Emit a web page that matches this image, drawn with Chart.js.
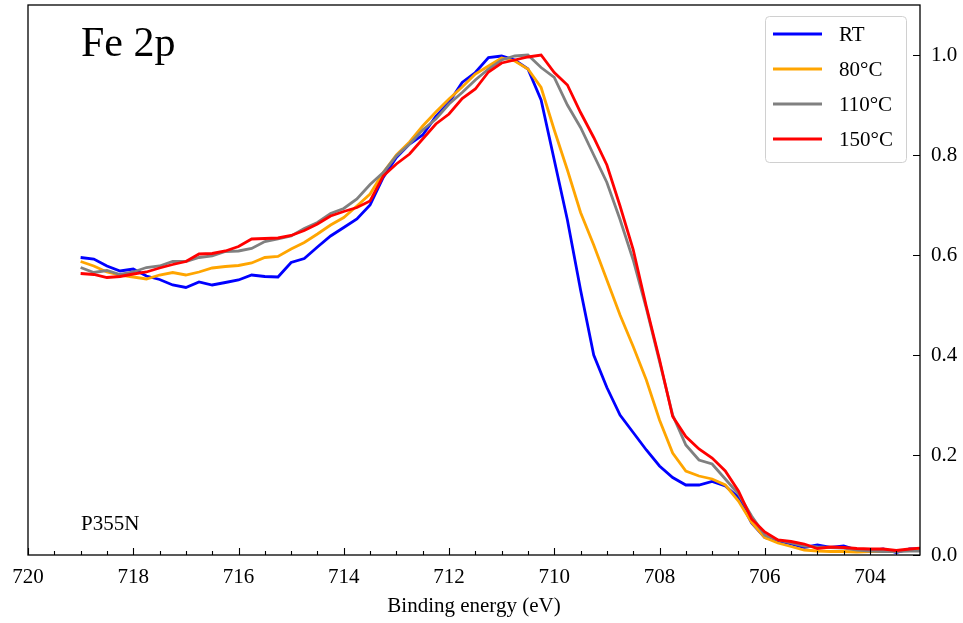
<!DOCTYPE html>
<html>
<head>
<meta charset="utf-8">
<title>Fe 2p</title>
<script src="https://cdn.jsdelivr.net/npm/chart.js@4.4.1/dist/chart.umd.min.js"></script>
<style>
    html, body { margin: 0; padding: 0; background: #fff; }
    #wrap { width: 963px; height: 623px; position: relative; }
</style>
</head>
<body>
<div id="wrap"><canvas id="xpsChart"></canvas></div>
<script>
// Fe 2p spectra - binding energy (eV), normalised intensity

const energy = [719, 718.75, 718.5, 718.25, 718, 717.75, 717.5, 717.25, 717, 716.75, 716.5, 716.25, 716, 715.75, 715.5, 715.25,
    715, 714.75, 714.5, 714.25, 714, 713.75, 713.5, 713.25, 713, 712.75, 712.5, 712.25, 712, 711.75, 711.5, 711.25,
    711, 710.75, 710.5, 710.25, 710, 709.75, 709.5, 709.25, 709, 708.75, 708.5, 708.25, 708, 707.75, 707.5, 707.25,
    707, 706.75, 706.5, 706.25, 706, 705.75, 705.5, 705.25, 705, 704.75, 704.5, 704.25, 704, 703.75, 703.5, 703.25, 703];

const rtValues = [0.595, 0.592, 0.578, 0.568, 0.572, 0.558, 0.551, 0.540, 0.535, 0.546, 0.540, 0.545, 0.550, 0.560, 0.557, 0.556,
    0.585, 0.593, 0.616, 0.638, 0.655, 0.672, 0.700, 0.755, 0.795, 0.822, 0.840, 0.877, 0.905, 0.945, 0.965, 0.995,
    0.998, 0.990, 0.972, 0.910, 0.790, 0.670, 0.530, 0.400, 0.335, 0.280, 0.245, 0.210, 0.178, 0.155, 0.140, 0.140,
    0.147, 0.138, 0.115, 0.064, 0.035, 0.028, 0.022, 0.015, 0.020, 0.015, 0.018, 0.010, 0.008, 0.012, 0.005, 0.012, 0.012];

const t80Values = [0.587, 0.578, 0.566, 0.560, 0.556, 0.552, 0.560, 0.565, 0.560, 0.566, 0.574, 0.577, 0.579, 0.584, 0.595, 0.597,
    0.612, 0.625, 0.642, 0.660, 0.675, 0.698, 0.722, 0.765, 0.800, 0.826, 0.858, 0.886, 0.912, 0.936, 0.962, 0.978,
    0.994, 0.988, 0.972, 0.935, 0.850, 0.770, 0.685, 0.620, 0.550, 0.480, 0.417, 0.350, 0.270, 0.204, 0.168, 0.158,
    0.152, 0.140, 0.108, 0.065, 0.035, 0.024, 0.017, 0.010, 0.008, 0.007, 0.007, 0.006, 0.007, 0.007, 0.008, 0.010, 0.010];

const t110Values = [0.575, 0.565, 0.569, 0.561, 0.566, 0.575, 0.578, 0.587, 0.587, 0.595, 0.598, 0.607, 0.608, 0.613, 0.627, 0.632,
    0.638, 0.653, 0.665, 0.683, 0.693, 0.712, 0.741, 0.765, 0.798, 0.822, 0.850, 0.872, 0.902, 0.925, 0.950, 0.972,
    0.990, 0.998, 1.000, 0.975, 0.955, 0.900, 0.855, 0.800, 0.745, 0.671, 0.590, 0.493, 0.387, 0.280, 0.220, 0.190,
    0.182, 0.152, 0.122, 0.078, 0.040, 0.030, 0.024, 0.018, 0.016, 0.015, 0.014, 0.010, 0.008, 0.007, 0.007, 0.008, 0.008];

const t150Values = [0.563, 0.561, 0.555, 0.557, 0.562, 0.566, 0.574, 0.581, 0.587, 0.602, 0.603, 0.608, 0.617, 0.632, 0.633, 0.634,
    0.639, 0.649, 0.662, 0.678, 0.687, 0.695, 0.708, 0.758, 0.782, 0.802, 0.832, 0.862, 0.882, 0.913, 0.932, 0.966,
    0.984, 0.990, 0.996, 1.000, 0.965, 0.940, 0.885, 0.835, 0.780, 0.698, 0.611, 0.497, 0.391, 0.277, 0.237, 0.212,
    0.194, 0.168, 0.128, 0.072, 0.046, 0.030, 0.027, 0.022, 0.013, 0.016, 0.015, 0.013, 0.012, 0.012, 0.009, 0.012, 0.014];

const seriesLabels = ['RT', '80°C', '110°C', '150°C'];
const seriesColors = ['#0000ff', '#ffa500', '#808080', '#ff0000'];
const seriesValues = [rtValues, t80Values, t110Values, t150Values];

const xTicks = [720, 718, 716, 714, 712, 710, 708, 706, 704];
const yTicks = [0, 0.2, 0.4, 0.6, 0.8, 1.0];

const serif = "'Liberation Serif', 'DejaVu Serif', serif";

// Frame, inward ticks and panel labels
const framePlugin = {
    id: 'frame',
    afterDraw(chart) {
        const ctx = chart.ctx;
        const area = chart.chartArea;
        const xs = chart.scales.x;
        const ys = chart.scales.y;

        ctx.save();
        ctx.strokeStyle = '#000';
        ctx.lineWidth = 1.3;
        ctx.strokeRect(area.left, area.top, area.right - area.left, area.bottom - area.top);

        ctx.lineWidth = 1.1;
        ctx.beginPath();
        // minor x ticks every 0.5 eV
        for (let v = 720; v >= xs.min; v -= 0.5) {
            const px = Math.round(xs.getPixelForValue(v)) + 0.5;
            const len = xTicks.includes(v) ? 7 : 4;
            ctx.moveTo(px, area.bottom);
            ctx.lineTo(px, area.bottom - len);
        }
        yTicks.forEach(v => {
            const py = Math.round(ys.getPixelForValue(v)) + 0.5;
            ctx.moveTo(area.right, py);
            ctx.lineTo(area.right - 7, py);
        });
        ctx.stroke();

        ctx.fillStyle = '#000';
        ctx.textAlign = 'left';
        ctx.textBaseline = 'alphabetic';
        ctx.font = '42px ' + serif;
        ctx.fillText('Fe 2p', 81, 56);
        ctx.font = '21px ' + serif;
        ctx.fillText('P355N', 81, 530);
        ctx.restore();
    }
};

// Legend box in the upper right corner
const legendPlugin = {
    id: 'boxLegend',
    afterDraw(chart) {
        const ctx = chart.ctx;
        const x = 765, y = 16, w = 141, h = 146;

        ctx.save();
        ctx.beginPath();
        ctx.roundRect(x + 0.5, y + 0.5, w, h, 4);
        ctx.fillStyle = 'rgba(255,255,255,0.85)';
        ctx.fill();
        ctx.strokeStyle = '#d0d0d0';
        ctx.lineWidth = 1;
        ctx.stroke();

        ctx.font = '21px ' + serif;
        ctx.textBaseline = 'middle';
        ctx.textAlign = 'left';
        chart.data.datasets.forEach((ds, i) => {
            const rowY = y + 18 + i * 35;
            ctx.strokeStyle = ds.borderColor;
            ctx.lineWidth = 3;
            ctx.beginPath();
            ctx.moveTo(773, rowY);
            ctx.lineTo(822, rowY);
            ctx.stroke();
            ctx.fillStyle = '#000';
            ctx.fillText(ds.label, 839, rowY + 1);
        });
        ctx.restore();
    }
};

function buildDatasets() {
    return seriesValues.map((values, i) => ({
        label: seriesLabels[i],
        data: energy.map((e, j) => ({ x: e, y: values[j] })),
        borderColor: seriesColors[i],
        backgroundColor: seriesColors[i],
        borderWidth: 2.8,
        pointRadius: 0,
        tension: 0,
        order: seriesValues.length - i
    }));
}

// drop the label overhang Chart.js reserves at the scale ends
function noEndPadding(scale) {
    scale.paddingTop = 0;
    scale.paddingBottom = 0;
    scale.paddingLeft = 0;
    scale.paddingRight = 0;
}

function initChart() {
    const ctx = document.getElementById('xpsChart');

    new Chart(ctx, {
        type: 'line',
        data: { datasets: buildDatasets() },
        options: {
            responsive: true,
            maintainAspectRatio: false,
            animation: false,
            devicePixelRatio: 1,
            layout: { padding: { left: 28, top: 5, right: 0, bottom: 0 } },
            plugins: {
                legend: { display: false },
                tooltip: { enabled: false }
            },
            scales: {
                x: {
                    type: 'linear',
                    reverse: true,
                    min: 703.05,
                    max: 720,
                    border: { display: false },
                    grid: { display: false, drawTicks: false },
                    afterBuildTicks: scale => { scale.ticks = xTicks.map(v => ({ value: v })); },
                    afterFit: scale => { scale.height = 68; noEndPadding(scale); },
                    ticks: {
                        color: '#000',
                        padding: 10,
                        maxRotation: 0,
                        font: { family: serif, size: 21 },
                        callback: v => String(v)
                    },
                    title: {
                        display: true,
                        text: 'Binding energy (eV)',
                        color: '#000',
                        font: { family: serif, size: 21 },
                        padding: { top: 0, bottom: 4 }
                    }
                },
                y: {
                    position: 'right',
                    min: 0,
                    max: 1.1,
                    border: { display: false },
                    grid: { display: false, drawTicks: false },
                    afterBuildTicks: scale => { scale.ticks = yTicks.map(v => ({ value: v })); },
                    afterFit: scale => { scale.width = 43; noEndPadding(scale); },
                    ticks: {
                        color: '#000',
                        padding: 11,
                        font: { family: serif, size: 21 },
                        callback: v => v.toFixed(1)
                    }
                }
            }
        },
        plugins: [framePlugin, legendPlugin]
    });
}

document.addEventListener('DOMContentLoaded', initChart);
</script>
</body>
</html>
